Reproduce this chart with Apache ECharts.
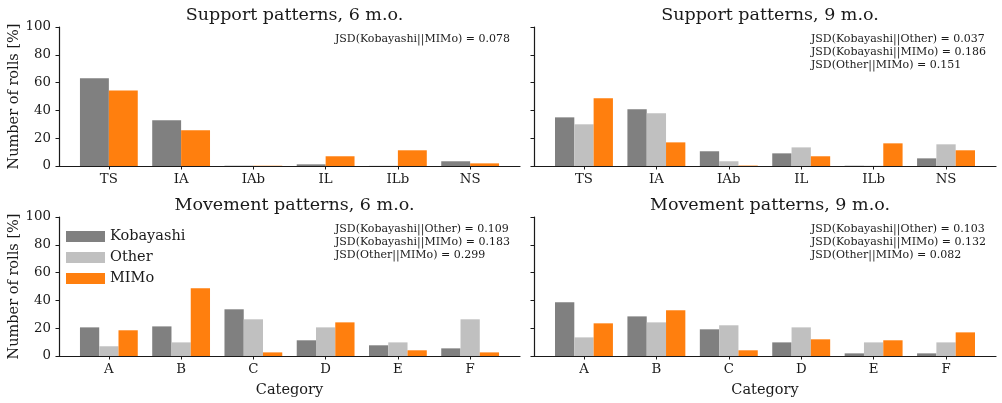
<!DOCTYPE html>
<html>
<head>
<meta charset="utf-8">
<script src="https://cdn.jsdelivr.net/npm/echarts@6/dist/echarts.min.js"></script>
<style>
  html, body { margin: 0; padding: 0; background: #fff; }
  #main { width: 1002px; height: 403px; }
</style>
</head>
<body>
<div id="main"></div>
<script>
// categories
var supportCats = ['TS', 'IA', 'IAb', 'IL', 'ILb', 'NS']
var movementCats = ['A', 'B', 'C', 'D', 'E', 'F']

// support patterns, 6 m.o. (no "Other" data)
var support6Kobayashi = [63.1, 32.9, 0.2, 1.2, 0.1, 3.4]
var support6MIMo = [54.4, 25.7, 0.2, 7.0, 11.3, 1.9]

// support patterns, 9 m.o.
var support9Kobayashi = [35.0, 40.8, 10.6, 9.1, 0.2, 5.5]
var support9Other = [30.0, 37.9, 3.4, 13.4, 0.2, 15.6]
var support9MIMo = [48.7, 17.0, 0.3, 7.0, 16.3, 11.3]

// movement patterns, 6 m.o.
var movement6Kobayashi = [20.6, 21.3, 33.6, 11.3, 7.7, 5.5]
var movement6Other = [7.0, 9.8, 26.4, 20.6, 9.8, 26.4]
var movement6MIMo = [18.5, 48.7, 2.6, 24.2, 4.1, 2.6]

// movement patterns, 9 m.o.
var movement9Kobayashi = [38.6, 28.5, 19.2, 9.8, 1.9, 1.9]
var movement9Other = [13.4, 24.2, 22.1, 20.6, 9.8, 9.8]
var movement9MIMo = [23.5, 32.9, 4.1, 12.0, 11.3, 17.0]

var titles = ['Support patterns, 6 m.o.', 'Support patterns, 9 m.o.',
    'Movement patterns, 6 m.o.', 'Movement patterns, 9 m.o.']

var jsdTexts = [
    ['JSD(Kobayashi||MIMo) = 0.078'],
    ['JSD(Kobayashi||Other) = 0.037', 'JSD(Kobayashi||MIMo) = 0.186', 'JSD(Other||MIMo) = 0.151'],
    ['JSD(Kobayashi||Other) = 0.109', 'JSD(Kobayashi||MIMo) = 0.183', 'JSD(Other||MIMo) = 0.299'],
    ['JSD(Kobayashi||Other) = 0.103', 'JSD(Kobayashi||MIMo) = 0.132', 'JSD(Other||MIMo) = 0.082']
]

var colors = { Kobayashi: '#808080', Other: '#c0c0c0', MIMo: '#ff7f0e' }
var font = 'DejaVu Serif'
var ink = '#1a1a1a'

// panel boxes
var grids = [
    { left: 59, top: 27, width: 461, height: 139 },
    { left: 534, top: 27, width: 462, height: 139 },
    { left: 59, top: 217, width: 461, height: 139 },
    { left: 534, top: 217, width: 462, height: 139 }
]
var panelCats = [supportCats, supportCats, movementCats, movementCats]

function pairs(arr) {
    return arr.map(function (v, i) { return [i, v] })
}

var xAxes = [], yAxes = [], series = [], titleList = [], graphics = []

grids.forEach(function (g, k) {
    var cats = panelCats[k]
    var idx = cats.map(function (c, i) { return i })
    xAxes.push({
        gridIndex: k,
        type: 'value',
        min: -0.69,
        max: 5.69,
        splitLine: { show: false },
        axisLine: { show: true, onZero: false, lineStyle: { color: ink, width: 1.2 } },
        axisTick: { show: true, customValues: idx, length: 3.5, lineStyle: { color: ink, width: 1 } },
        axisLabel: {
            customValues: idx, margin: 7, color: ink, fontFamily: font, fontSize: 13.3,
            formatter: function (v) { return cats[Math.round(v)] }
        },
        name: k >= 2 ? 'Category' : '',
        nameLocation: 'middle',
        nameGap: 27,
        nameTextStyle: { color: ink, fontFamily: font, fontSize: 14.5 }
    })
    yAxes.push({
        gridIndex: k,
        type: 'value',
        min: 0,
        max: 100,
        interval: 20,
        splitLine: { show: false },
        axisLine: { show: true, onZero: false, lineStyle: { color: ink, width: 1.2 } },
        axisTick: { show: true, length: 3.5, lineStyle: { color: ink, width: 1 } },
        axisLabel: { show: k % 2 === 0, margin: 8, color: ink, fontFamily: font, fontSize: 13.3 },
        name: k % 2 === 0 ? 'Number of rolls [%]' : '',
        nameLocation: 'middle',
        nameRotate: 90,
        nameGap: 37,
        nameTextStyle: { color: ink, fontFamily: font, fontSize: 14.5 }
    })
    titleList.push({
        text: titles[k],
        left: g.left + g.width / 2,
        top: g.top - 26,
        textAlign: 'center',
        textStyle: { color: ink, fontFamily: font, fontSize: 17.5, fontWeight: 'normal' }
    })
    graphics.push({
        type: 'text',
        right: 1002 - (g.left + g.width - 10),
        top: g.top + 6,
        style: {
            text: jsdTexts[k].join('\n'),
            fill: ink,
            font: '11px "DejaVu Serif"',
            lineHeight: 12.7,
            textAlign: 'left'
        }
    })
})

function addBar(k, name, arr) {
    series.push({
        type: 'bar',
        name: name,
        xAxisIndex: k,
        yAxisIndex: k,
        data: pairs(arr),
        barGap: 0,
        barCategoryGap: '20%',
        itemStyle: { color: colors[name] },
        emphasis: { disabled: true }
    })
}

addBar(0, 'Kobayashi', support6Kobayashi)
addBar(0, 'MIMo', support6MIMo)
addBar(1, 'Kobayashi', support9Kobayashi)
addBar(1, 'Other', support9Other)
addBar(1, 'MIMo', support9MIMo)
addBar(2, 'Kobayashi', movement6Kobayashi)
addBar(2, 'Other', movement6Other)
addBar(2, 'MIMo', movement6MIMo)
addBar(3, 'Kobayashi', movement9Kobayashi)
addBar(3, 'Other', movement9Other)
addBar(3, 'MIMo', movement9MIMo)

var chart = echarts.init(document.getElementById('main'), null, { renderer: 'canvas' })
chart.setOption({
    animation: false,
    backgroundColor: '#fff',
    title: titleList,
    grid: grids,
    xAxis: xAxes,
    yAxis: yAxes,
    series: series,
    graphic: graphics,
    legend: {
        data: ['Kobayashi', 'Other', 'MIMo'],
        orient: 'vertical',
        left: 61,
        top: 224,
        icon: 'rect',
        itemWidth: 39,
        itemHeight: 11,
        itemGap: 6,
        textStyle: { color: ink, fontFamily: font, fontSize: 14.5 }
    }
})
</script>
</body>
</html>
